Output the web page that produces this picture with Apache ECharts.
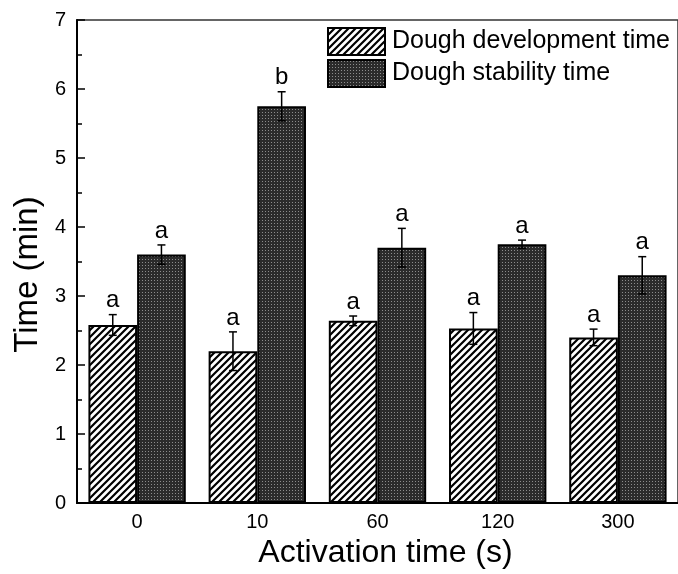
<!DOCTYPE html>
<html>
<head>
<meta charset="utf-8">
<script src="https://cdn.jsdelivr.net/npm/echarts@6/dist/echarts.min.js"></script>
<style>html,body{margin:0;padding:0;background:#fff;}#c{width:678px;height:574px;}</style>
</head>
<body>
<div id="c"></div>
<script>
const categories = ['0', '10', '60', '120', '300'];
const devTime = [2.58, 2.20, 2.64, 2.53, 2.40];
const devErr = [0.15, 0.28, 0.07, 0.23, 0.12];
const devLetters = ['a', 'a', 'a', 'a', 'a'];
const stabTime = [3.60, 5.75, 3.70, 3.75, 3.30];
const stabErr = [0.14, 0.21, 0.28, 0.06, 0.27];
const stabLetters = ['a', 'b', 'a', 'a', 'a'];
const yTicks = [0, 1, 2, 3, 4, 5, 6, 7];

function hatchPattern() {
  const c = document.createElement('canvas');
  c.width = 7; c.height = 7;
  const g = c.getContext('2d');
  g.fillStyle = '#fff'; g.fillRect(0, 0, 7, 7);
  g.strokeStyle = '#000'; g.lineWidth = 2.2;
  g.beginPath();
  g.moveTo(-1, 8); g.lineTo(8, -1);
  g.moveTo(-2, 2); g.lineTo(2, -2);
  g.moveTo(5, 9); g.lineTo(9, 5);
  g.stroke();
  return c;
}
function dotPattern() {
  const c = document.createElement('canvas');
  c.width = 3; c.height = 3;
  const g = c.getContext('2d');
  g.fillStyle = '#2b2b2b'; g.fillRect(0, 0, 3, 3);
  g.fillStyle = '#8c8c8c'; g.fillRect(1, 1, 1, 1);
  return c;
}

const FONT = '"Liberation Sans", Arial, sans-serif';
const chart = echarts.init(document.getElementById('c'), null, {renderer: 'canvas'});

function errSeries(vals, errs, letters, offset) {
  return {
    type: 'custom',
    name: 'err' + offset,
    z: 5,
    silent: true,
    data: vals.map((v, i) => [i, v, errs[i]]),
    renderItem: function (params, api) {
      const i = api.value(0), v = api.value(1), e = api.value(2);
      const band = api.size([1, 0])[0];
      const xc = api.coord([i, v])[0] + offset * band;
      const yT = api.coord([i, v + e])[1];
      const yB = api.coord([i, v - e])[1];
      const cap = 4;
      const st = {stroke: '#000', lineWidth: 1.5};
      return {
        type: 'group',
        children: [
          {type: 'line', shape: {x1: xc, y1: yT, x2: xc, y2: yB}, style: st},
          {type: 'line', shape: {x1: xc - cap, y1: yT, x2: xc + cap, y2: yT}, style: st},
          {type: 'line', shape: {x1: xc - cap, y1: yB, x2: xc + cap, y2: yB}, style: st},
          {type: 'text', x: xc, y: yT - 2, style: {
            text: letters[params.dataIndex], fill: '#000',
            font: '24px ' + FONT, align: 'center', verticalAlign: 'bottom'}}
        ]
      };
    }
  };
}

const option = {
  animation: false,
  backgroundColor: '#fff',
  grid: {left: 77, top: 20, right: -6, bottom: 64, show: true, borderColor: '#333', borderWidth: 1.5, backgroundColor: 'transparent'},
  legend: {
    data: ['Dough development time', 'Dough stability time'],
    orient: 'vertical', left: 327, top: 27, padding: 0,
    itemWidth: 57, itemHeight: 27, itemGap: 3, icon: 'rect',
    textStyle: {fontFamily: FONT, fontSize: 25, color: '#000', padding: [0, 0, 0, 2]}
  },
  xAxis: {
    type: 'category', data: categories,
    axisLine: {lineStyle: {color: '#000', width: 2}},
    axisTick: {inside: false, length: -4, lineStyle: {color: '#000', width: 1.5}},
    axisLabel: {fontFamily: FONT, fontSize: 20, color: '#000', margin: 9},
    name: 'Activation time (s)', nameLocation: 'middle', nameGap: 34,
    nameTextStyle: {fontFamily: FONT, fontSize: 32, color: '#000', padding: [0, 0, 0, 16]}
  },
  yAxis: {
    type: 'value', min: yTicks[0], max: yTicks[yTicks.length - 1], interval: 1,
    axisLine: {show: true, lineStyle: {color: '#000', width: 2}},
    axisTick: {show: true, inside: false, length: -8, lineStyle: {color: '#000', width: 1.5}},
    minorTick: {show: true, splitNumber: 2, length: -5, lineStyle: {color: '#000', width: 1.5}},
    splitLine: {show: false},
    axisLabel: {fontFamily: FONT, fontSize: 20, color: '#000', margin: 11},
    name: 'Time (min)', nameLocation: 'middle', nameGap: 31,
    nameTextStyle: {fontFamily: FONT, fontSize: 33, color: '#000', padding: [0, 26, 0, 0]}
  },
  series: [
    {
      type: 'bar', name: 'Dough development time', data: devTime,
      barGap: '0%', barCategoryGap: '19%',
      itemStyle: {color: {image: hatchPattern(), repeat: 'repeat'}, borderColor: '#000', borderWidth: 2}
    },
    {
      type: 'bar', name: 'Dough stability time', data: stabTime,
      barGap: '0%', barCategoryGap: '19%',
      itemStyle: {color: {image: dotPattern(), repeat: 'repeat'}, borderColor: '#000', borderWidth: 2}
    },
    errSeries(devTime, devErr, devLetters, -0.2025),
    errSeries(stabTime, stabErr, stabLetters, 0.2025)
  ]
};
chart.setOption(option);
</script>
</body>
</html>
